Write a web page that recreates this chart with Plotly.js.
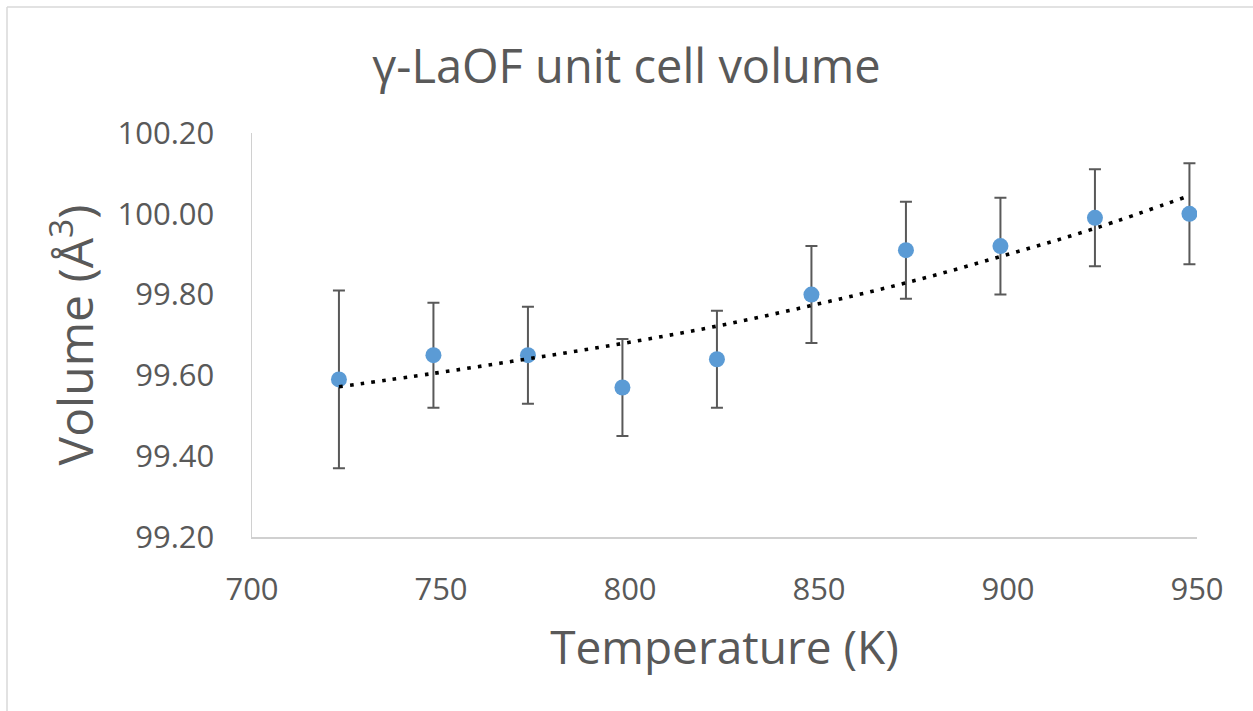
<!DOCTYPE html>
<html>
<head>
<meta charset="utf-8">
<script src="https://cdn.plot.ly/plotly-3.0.1.min.js"></script>
<style>
html,body{margin:0;padding:0;background:#fff;}
#chart{width:1253px;height:711px;}
</style>
</head>
<body>
<div id="chart"></div>
<script>
// Data
const temperatures = [723, 748, 773, 798, 823, 848, 873, 898, 923, 948];
const volumes = [99.59, 99.65, 99.65, 99.57, 99.64, 99.80, 99.91, 99.92, 99.99, 100.00];
const volumeErrors = [0.22, 0.13, 0.12, 0.12, 0.12, 0.12, 0.12, 0.12, 0.12, 0.125];
const trendTemperatures = [723, 748, 773, 798, 823, 848, 873, 898, 923, 948];
const trendVolumes = [99.572, 99.605, 99.641, 99.679, 99.722, 99.773, 99.829, 99.894, 99.964, 100.045];
const xTicks = [700, 750, 800, 850, 900, 950];
const yTicks = [99.2, 99.4, 99.6, 99.8, 100.0, 100.2];
const yTickLabels = ["99.20", "99.40", "99.60", "99.80", "100.00", "100.20"];

const FONT = "Open Sans, Noto Sans, DejaVu Sans, sans-serif";
const TXT = "#595959";

const traces = [
  {
    x: temperatures, y: volumes, type: "scatter", mode: "markers",
    marker: {color: "#5b9bd5", size: 16},
    error_y: {type: "data", array: volumeErrors, visible: true, color: "#595959", thickness: 2, width: 6},
    showlegend: false, hoverinfo: "x+y"
  },
  {
    x: trendTemperatures, y: trendVolumes, type: "scatter", mode: "lines",
    line: {color: "#000000", width: 3.6, dash: "3.6px,7.2px", shape: "spline"},
    showlegend: false, hoverinfo: "skip"
  }
];

const layout = {
  width: 1253, height: 711,
  paper_bgcolor: "#ffffff", plot_bgcolor: "#ffffff",
  margin: {l: 252, r: 56, t: 133, b: 174, pad: 0},
  font: {family: FONT, color: TXT},
  title: {text: "γ-LaOF unit cell volume", font: {family: FONT, size: 47, color: TXT},
          x: 0.5, xref: "container", xanchor: "center", y: 62, yref: "container", yanchor: "middle"},
  xaxis: {
    range: [700, 950], tickvals: xTicks, ticktext: xTicks.map(String),
    showgrid: false, zeroline: false, showline: true, linecolor: "#d0d0d0", linewidth: 1.5,
    ticks: "outside", ticklen: 24, tickcolor: "rgba(0,0,0,0)",
    tickfont: {family: FONT, size: 31, color: TXT},
    title: {text: "Temperature (K)", font: {family: FONT, size: 46, color: TXT}, standoff: 24}
  },
  yaxis: {
    range: [99.2, 100.2], tickvals: yTicks, ticktext: yTickLabels,
    showgrid: false, zeroline: false, showline: true, linecolor: "#d0d0d0", linewidth: 1.5,
    ticks: "outside", ticklen: 30, tickcolor: "rgba(0,0,0,0)",
    tickfont: {family: FONT, size: 31, color: TXT},
    title: {text: "Volume (Å<sup>3</sup>)", font: {family: FONT, size: 48, color: TXT}, standoff: 8}
  },
  shapes: [
    {type: "line", xref: "paper", yref: "paper", x0: -245/945, x1: 1001/945, y0: 530/404, y1: 530/404,
     line: {color: "#d9d9d9", width: 1.5}},
    {type: "line", xref: "paper", yref: "paper", x0: -245/945, x1: -245/945, y0: 530/404, y1: -174/404,
     line: {color: "#d9d9d9", width: 1.5}}
  ]
};

Plotly.newPlot("chart", traces, layout, {displayModeBar: false, staticPlot: true});
</script>
</body>
</html>
